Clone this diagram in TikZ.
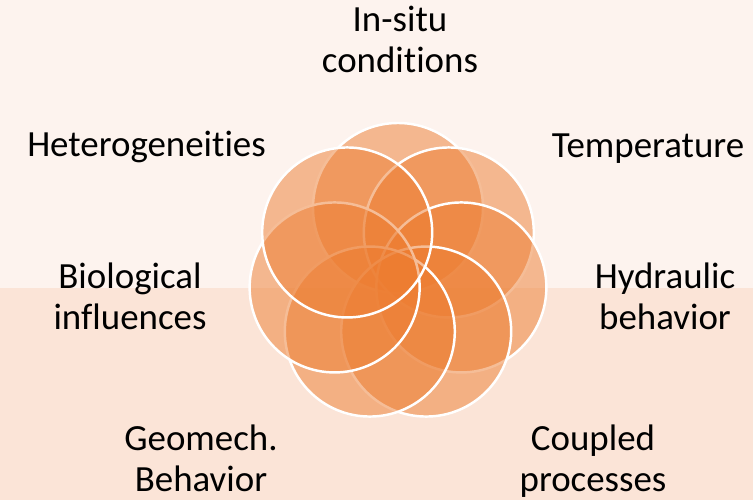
\documentclass[tikz,border=0pt]{standalone}
\usepackage{fontspec}
\setmainfont{Carlito}[Ligatures=NoCommon]
\usepackage{tikz}

\definecolor{bgtop}{RGB}{253,243,238}
\definecolor{bgbottom}{RGB}{251,228,215}
\definecolor{petalorange}{RGB}{237,125,49}

\begin{document}
\begin{tikzpicture}
                % background bands
                \fill[bgtop] (0,0) rectangle (15.06,10);
                \fill[bgbottom] (0,0) rectangle (15.06,4.24);
                \useasboundingbox (0,0) rectangle (15.06,10);

                % seven overlapping circles round the middle
                \begin{scope}[shift={(7.96,4.54)}]
                \foreach \i in {0,...,6}
                    \path[fill=petalorange,fill opacity=0.5,draw=white,line width=1.4pt]
                    ({90-\i*360/7}:1.3) circle (1.7);
                \end{scope}

                % base anchor sits on the last line
                \begin{scope}[every node/.style={align=center,anchor=base,
                    font=\fontsize{21}{23.8}\selectfont,inner sep=0pt}]
                \node (insitu) at (8.0,8.54) {In-situ\\conditions};
                \node (temperature) at (12.96,6.85) {Temperature};
                \node (hydraulic) at (13.3,3.4) {Hydraulic\\behavior};
                \node (coupled) at (11.86,0.16) {Coupled\\processes};
                \node (geomech) at (4.02,0.16) {Geomech.\\Behavior};
                \node (biological) at (2.6,3.4) {Biological\\influences};
                \node (hetero) at (2.93,6.86) {Heterogeneities};
                \end{scope}
\end{tikzpicture}
\end{document}
